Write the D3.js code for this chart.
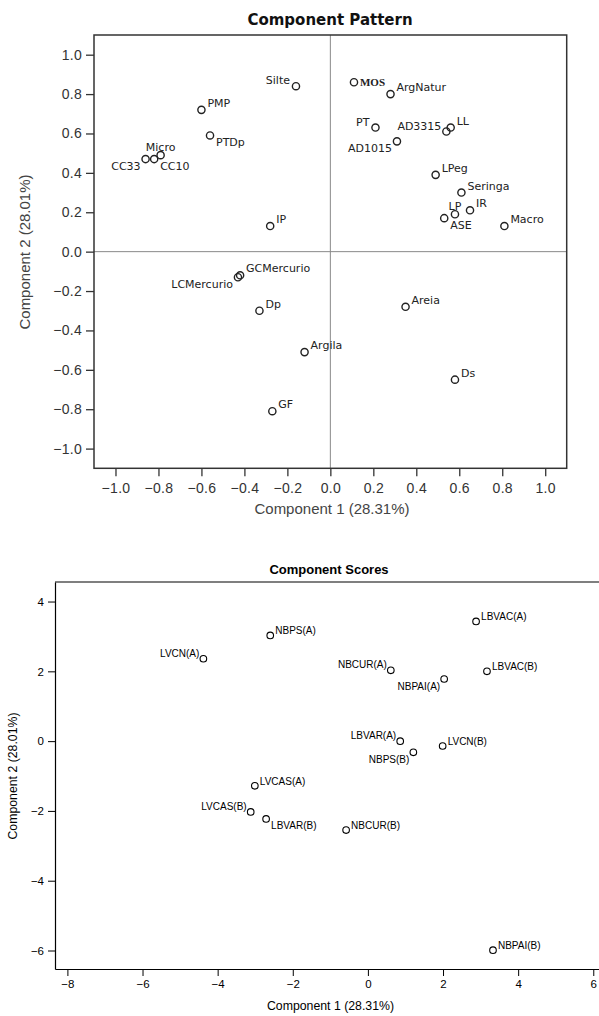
<!DOCTYPE html>
<html>
<head>
<meta charset="utf-8">
<script src="https://cdn.jsdelivr.net/npm/d3@7"></script>
<style>
  body { margin: 0; background: #fff; }
  svg { display: block; }
</style>
</head>
<body>
<div id="chart"></div>
<script>
// component pattern (loadings)
const patternNames = ["Silte", "PMP", "PTDp", "CC33", "CC10", "Micro", "IP", "MOS", "ArgNatur", "PT",
  "AD3315", "LL", "AD1015", "LPeg", "Seringa", "LP", "IR", "ASE", "Macro",
  "GCMercurio", "LCMercurio", "Dp", "Argila", "GF", "Areia", "Ds"];
const patternPC1 = [-0.16, -0.60, -0.56, -0.86, -0.82, -0.79, -0.28, 0.11, 0.28, 0.21,
  0.54, 0.56, 0.31, 0.49, 0.61, 0.58, 0.65, 0.53, 0.81,
  -0.42, -0.43, -0.33, -0.12, -0.27, 0.35, 0.58];
const patternPC2 = [0.84, 0.72, 0.59, 0.47, 0.47, 0.49, 0.13, 0.86, 0.80, 0.63,
  0.61, 0.63, 0.56, 0.39, 0.30, 0.19, 0.21, 0.17, 0.13,
  -0.12, -0.13, -0.30, -0.51, -0.81, -0.28, -0.65];
// where each label sits relative to its point
const patternLabelPos = ["NW", "NE", "SE", "SW", "SE", "N", "NE", "E", "NE", "NW",
  "W", "NE", "SW", "NE", "NE", "N", "NE", "SE", "NE",
  "NE", "SW", "NE", "NE", "NE", "NE", "NE"];
const patternTicks = [-1.0, -0.8, -0.6, -0.4, -0.2, 0.0, 0.2, 0.4, 0.6, 0.8, 1.0];

// component scores
const scoreNames = ["LBVAC(A)", "NBPS(A)", "LVCN(A)", "NBCUR(A)", "LBVAC(B)", "NBPAI(A)",
  "LBVAR(A)", "LVCN(B)", "NBPS(B)", "LVCAS(A)", "LVCAS(B)", "LBVAR(B)", "NBCUR(B)", "NBPAI(B)"];
const scorePC1 = [2.88, -2.60, -4.38, 0.61, 3.17, 2.03, 0.86, 1.99, 1.21, -3.01, -3.12, -2.71, -0.58, 3.33];
const scorePC2 = [3.43, 3.03, 2.36, 2.03, 2.00, 1.78, 0.00, -0.14, -0.32, -1.28, -2.03, -2.23, -2.55, -5.99];
const scoreLabelPos = ["NE", "NE", "NW", "NW", "NE", "SW", "NW", "NE", "SW", "NE", "NW", "SE", "NE", "NE"];
const scoreXTicks = [-8, -6, -4, -2, 0, 2, 4, 6];
const scoreYTicks = [-6, -4, -2, 0, 2, 4];

const w = 599;
const h = 1016;

const svg = d3.select("#chart")
  .append("svg")
  .attr("width", w)
  .attr("height", h);

// ---------- top chart ----------
const topLabelOffsets = {
  NE: {dx: 6, dy: -3, anchor: "start"},
  NW: {dx: -6, dy: -2, anchor: "end"},
  E:  {dx: 6, dy: 3.5, anchor: "start"},
  W:  {dx: -5, dy: -2, anchor: "end"},
  SE: {dx: 6, dy: 11, anchor: "start"},
  SW: {dx: -5, dy: 10.5, anchor: "end"},
  N:  {dx: 0, dy: -4, anchor: "middle"}
};

const x1 = d3.scaleLinear().domain([-1.1, 1.1]).range([94, 566.7]);
const y1 = d3.scaleLinear().domain([-1.1, 1.1]).range([468.3, 35]);

const topChart = svg.append("g");

topChart.append("text")
  .attr("x", 330)
  .attr("y", 25)
  .attr("text-anchor", "middle")
  .style("font", "bold 15px 'DejaVu Sans', sans-serif")
  .style("fill", "#111")
  .text("Component Pattern");

// reference lines at zero
topChart.append("line")
  .attr("x1", x1(0)).attr("x2", x1(0))
  .attr("y1", y1(1.1)).attr("y2", y1(-1.1))
  .style("stroke", "#8a8a8a").style("stroke-width", 1);
topChart.append("line")
  .attr("x1", x1(-1.1)).attr("x2", x1(1.1))
  .attr("y1", y1(0)).attr("y2", y1(0))
  .style("stroke", "#8a8a8a").style("stroke-width", 1);

const topXAxis = topChart.append("g")
  .attr("transform", `translate(0,${y1(-1.1)})`)
  .call(d3.axisBottom(x1).tickValues(patternTicks).tickSize(8).tickSizeOuter(0).tickFormat(d3.format(".1f")));
const topYAxis = topChart.append("g")
  .attr("transform", `translate(${x1(-1.1)},0)`)
  .call(d3.axisLeft(y1).tickValues(patternTicks).tickSize(8).tickSizeOuter(0).tickFormat(d3.format(".1f")));

[topXAxis, topYAxis].forEach(a => {
  a.select(".domain").remove();
  a.selectAll(".tick line").style("stroke", "#333").style("stroke-width", 1.3);
  a.selectAll(".tick text")
    .style("font", "14px 'Liberation Sans', Arial, sans-serif")
    .style("letter-spacing", "0.3px")
    .style("fill", "#333");
});
topXAxis.selectAll(".tick text").attr("dy", "1.05em").attr("y", 10);
topYAxis.selectAll(".tick text").attr("x", -12);

// frame
topChart.append("rect")
  .attr("x", x1(-1.1))
  .attr("y", y1(1.1))
  .attr("width", x1(1.1) - x1(-1.1))
  .attr("height", y1(-1.1) - y1(1.1))
  .style("fill", "none")
  .style("stroke", "#333")
  .style("stroke-width", 1.5);

topChart.append("text")
  .attr("x", 332)
  .attr("y", 514)
  .attr("text-anchor", "middle")
  .style("font", "15px 'Liberation Sans', Arial, sans-serif")
  .style("fill", "#444")
  .text("Component 1 (28.31%)");

topChart.append("text")
  .attr("transform", "translate(30,252) rotate(-90)")
  .attr("text-anchor", "middle")
  .style("font", "15px 'Liberation Sans', Arial, sans-serif")
  .style("fill", "#444")
  .text("Component 2 (28.01%)");

const patternData = patternNames.map((name, i) => ({
  name, pc1: patternPC1[i], pc2: patternPC2[i], pos: patternLabelPos[i]
}));

topChart.selectAll("circle.pt")
  .data(patternData)
  .enter()
  .append("circle")
  .attr("class", "pt")
  .attr("cx", d => x1(d.pc1))
  .attr("cy", d => y1(d.pc2))
  .attr("r", 3.6)
  .style("fill", "none")
  .style("stroke", "#222")
  .style("stroke-width", 1.4);

topChart.selectAll("text.lbl")
  .data(patternData)
  .enter()
  .append("text")
  .attr("class", "lbl")
  .attr("x", d => x1(d.pc1) + topLabelOffsets[d.pos].dx)
  .attr("y", d => y1(d.pc2) + topLabelOffsets[d.pos].dy)
  .attr("text-anchor", d => topLabelOffsets[d.pos].anchor)
  .style("font", d => d.name === "MOS"
    ? "bold 11px 'Liberation Serif', serif"
    : "11px 'DejaVu Sans', sans-serif")
  .style("fill", "#222")
  .text(d => d.name);

// ---------- bottom chart ----------
const botLabelOffsets = {
  NE: {dx: 5, dy: -1, anchor: "start"},
  NW: {dx: -4, dy: -2, anchor: "end"},
  SW: {dx: -4, dy: 11, anchor: "end"},
  SE: {dx: 5, dy: 10, anchor: "start"}
};

const x2 = d3.scaleLinear().domain([-8.33, 6.4]).range([55, 608.3]);
const y2 = d3.scaleLinear().domain([-6.53, 4.56]).range([969, 582]);

const botChart = svg.append("g");

botChart.append("text")
  .attr("x", 329)
  .attr("y", 574)
  .attr("text-anchor", "middle")
  .style("font", "bold 13px 'Liberation Sans', Arial, sans-serif")
  .style("fill", "#000")
  .text("Component Scores");

const botXAxis = botChart.append("g")
  .attr("transform", `translate(0,${y2(-6.53)})`)
  .call(d3.axisBottom(x2).tickValues(scoreXTicks).tickSize(7).tickSizeOuter(0));
const botYAxis = botChart.append("g")
  .attr("transform", `translate(${x2(-8.33)},0)`)
  .call(d3.axisLeft(y2).tickValues(scoreYTicks).tickSize(7).tickSizeOuter(0));

[botXAxis, botYAxis].forEach(a => {
  a.select(".domain").style("stroke", "#000").style("stroke-width", 1.2);
  a.selectAll(".tick line").style("stroke", "#000");
  a.selectAll(".tick text")
    .style("font", "11.5px 'Liberation Sans', Arial, sans-serif")
    .style("fill", "#000");
});
botXAxis.selectAll(".tick text").attr("y", 11);
botYAxis.selectAll(".tick text").attr("x", -11);

// top border line
botChart.append("line")
  .attr("x1", x2(-8.33)).attr("x2", w)
  .attr("y1", y2(4.56)).attr("y2", y2(4.56))
  .style("stroke", "#000").style("stroke-width", 1.2);

botChart.append("text")
  .attr("x", 330.5)
  .attr("y", 1010)
  .attr("text-anchor", "middle")
  .style("font", "12.3px 'Liberation Sans', Arial, sans-serif")
  .style("fill", "#000")
  .text("Component 1 (28.31%)");

botChart.append("text")
  .attr("transform", "translate(16.5,776) rotate(-90)")
  .attr("text-anchor", "middle")
  .style("font", "12.3px 'Liberation Sans', Arial, sans-serif")
  .style("fill", "#000")
  .text("Component 2 (28.01%)");

const scoreData = scoreNames.map((name, i) => ({
  name, pc1: scorePC1[i], pc2: scorePC2[i], pos: scoreLabelPos[i]
}));

botChart.selectAll("circle.sc")
  .data(scoreData)
  .enter()
  .append("circle")
  .attr("class", "sc")
  .attr("cx", d => x2(d.pc1))
  .attr("cy", d => y2(d.pc2))
  .attr("r", 3.3)
  .style("fill", "none")
  .style("stroke", "#000")
  .style("stroke-width", 1.1);

botChart.selectAll("text.slbl")
  .data(scoreData)
  .enter()
  .append("text")
  .attr("class", "slbl")
  .attr("x", d => x2(d.pc1) + botLabelOffsets[d.pos].dx)
  .attr("y", d => y2(d.pc2) + botLabelOffsets[d.pos].dy)
  .attr("text-anchor", d => botLabelOffsets[d.pos].anchor)
  .style("font", "10px 'Liberation Sans', Arial, sans-serif")
  .style("fill", "#000")
  .text(d => d.name);
</script>
</body>
</html>
